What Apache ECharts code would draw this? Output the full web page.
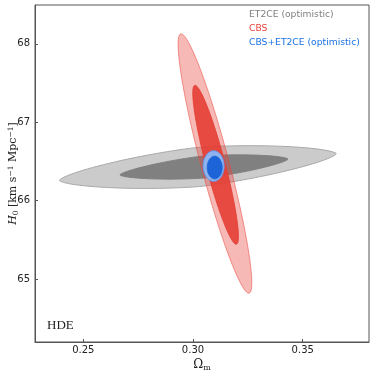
<!DOCTYPE html>
<html>
<head>
<meta charset="utf-8">
<script src="https://cdn.jsdelivr.net/npm/echarts@6/dist/echarts.min.js"></script>
<style>
  html, body { margin: 0; padding: 0; background: #fff; }
  #chart { width: 374px; height: 375px; }
</style>
</head>
<body>
<div id="chart"></div>
<script>
// contour names, drawn back to front
const contourNames = ['ET2CE 2sig', 'ET2CE 1sig', 'CBS 2sig', 'CBS 1sig', 'CBS+ET2CE 2sig', 'CBS+ET2CE 1sig'];
// centre of each contour (Omega_m, H0)
const centerOm = [0.3022, 0.3050, 0.3100, 0.3103, 0.3094, 0.3099];
const centerH0 = [66.429, 66.430, 66.474, 66.458, 66.442, 66.423];
// end of the long axis
const majorOm = [0.3653, 0.3433, 0.2944, 0.3008, 0.3094, 0.3099];
const majorH0 = [66.599, 66.531, 68.126, 67.470, 66.637, 66.567];
// end of the short axis
const minorOm = [0.3030, 0.3055, 0.3162, 0.3145, 0.3142, 0.3133];
const minorH0 = [66.181, 66.291, 66.519, 66.489, 66.442, 66.423];

const xTicks = [0.25, 0.30, 0.35];
const yTicks = [65, 66, 67, 68];

const legendItems = ['ET2CE (optimistic)', 'CBS', 'CBS+ET2CE (optimistic)'];

// looks
const fills = ['#cbcbcb', '#808080', 'rgba(234,70,62,0.38)', 'rgba(228,64,54,0.92)', '#8fb3ef', '#1c64d8'];
const strokes = ['#a9a9a9', '#808080', 'rgba(234,70,62,0.55)', 'rgba(228,64,54,0.92)', '#5f97ee', '#1c64d8'];
const pointiness = [1.5, 1.5, 2, 2, 2, 2];
const legendColors = ['#808080', '#e8413a', '#1a70e6'];

const chart = echarts.init(document.getElementById('chart'));

function renderContour(params, api) {
  const i = params.dataIndex;
  const p = pointiness[i];
  const pts = [];
  const n = 120;
  for (let k = 0; k < n; k++) {
    const t = 2 * Math.PI * k / n;
    const c = Math.cos(t), s = Math.sin(t);
    const fc = Math.sign(c) * Math.pow(Math.abs(c), 2 / p);
    const fs = Math.sign(s) * Math.pow(Math.abs(s), 2 / p);
    const om = centerOm[i] + (majorOm[i] - centerOm[i]) * fc + (minorOm[i] - centerOm[i]) * fs;
    const h = centerH0[i] + (majorH0[i] - centerH0[i]) * fc + (minorH0[i] - centerH0[i]) * fs;
    pts.push(api.coord([om, h]));
  }
  return {
    type: 'polygon',
    shape: { points: pts },
    style: { fill: fills[i], stroke: strokes[i], lineWidth: 1 }
  };
}

const option = {
  animation: false,
  grid: {
    left: 35, top: 5, width: 334, height: 337,
    containLabel: false, outerBoundsMode: 'none',
    show: true, borderColor: '#555', borderWidth: 1, backgroundColor: 'transparent'
  },
  xAxis: {
    type: 'value', min: 0.228, max: 0.3802,
    axisLine: { show: true, lineStyle: { color: '#555' } },
    axisTick: { show: true, inside: true, length: 3, lineStyle: { color: '#555' }, customValues: xTicks },
    axisLabel: {
      customValues: xTicks, color: '#222', fontFamily: 'DejaVu Sans', fontSize: 10, margin: 3,
      formatter: v => v.toFixed(2)
    },
    splitLine: { show: false },
    name: '{a|Ω}{b|m}', nameLocation: 'middle', nameGap: 16, nameMoveOverlap: false,
    nameTextStyle: {
      rich: {
        a: { fontFamily: 'DejaVu Serif', fontSize: 12, color: '#222' },
        b: { fontFamily: 'DejaVu Serif', fontSize: 8, color: '#222', verticalAlign: 'bottom', padding: [6, 0, 0, 0] }
      }
    }
  },
  yAxis: {
    type: 'value', min: 64.2, max: 68.494,
    axisLine: { show: true, lineStyle: { color: '#555' } },
    axisTick: { show: true, inside: true, length: 3, lineStyle: { color: '#555' }, customValues: yTicks },
    axisLabel: {
      customValues: yTicks, color: '#222', fontFamily: 'DejaVu Sans', fontSize: 10, margin: 5
    },
    splitLine: { show: false },
    name: '{i|H}{s|0} {t|[km s}{u|−1}{t| Mpc}{u|−1}{t|]}', nameLocation: 'middle', nameGap: 15, nameMoveOverlap: false,
    nameTextStyle: {
      rich: {
        i: { fontFamily: 'DejaVu Serif', fontStyle: 'italic', fontSize: 11, color: '#222' },
        s: { fontFamily: 'DejaVu Serif', fontSize: 7.5, color: '#222', verticalAlign: 'bottom', padding: [5, 0, 0, 0] },
        t: { fontFamily: 'DejaVu Serif', fontSize: 11, color: '#222' },
        u: { fontFamily: 'DejaVu Serif', fontSize: 7.5, color: '#222', verticalAlign: 'top', padding: [0, 0, 5, 0] }
      }
    }
  },
  series: [{
    type: 'custom',
    coordinateSystem: 'cartesian2d',
    renderItem: renderContour,
    data: contourNames.map((n, i) => [centerOm[i], centerH0[i]]),
    silent: true
  }],
  graphic: [
    ...legendItems.map((t, i) => ({
      type: 'text', left: 249, top: 10 + i * 14,
      style: { text: t, fill: legendColors[i], font: '9.2px "DejaVu Sans"' }
    })),
    {
      type: 'text', left: 47, top: 319,
      style: { text: 'HDE', fill: '#222', font: '13px "Liberation Serif"' }
    }
  ]
};

chart.setOption(option);
</script>
</body>
</html>
